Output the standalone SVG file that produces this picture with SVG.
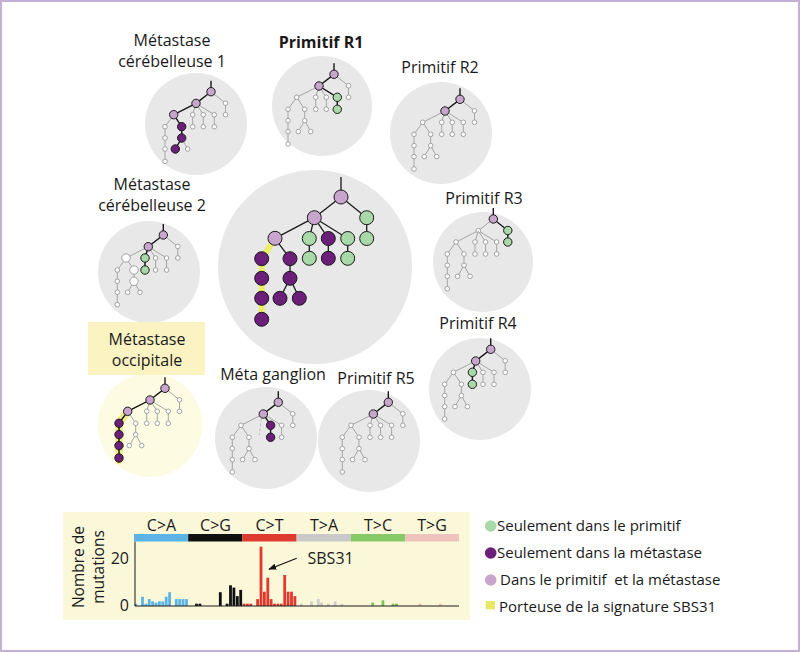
<svg xmlns="http://www.w3.org/2000/svg" xmlns:xlink="http://www.w3.org/1999/xlink" width="800" height="652" viewBox="0 0 800 652">
<style>
text{font-family:"Open Sans","Liberation Sans",sans-serif;fill:#1a1a1a}
.lbl{font-size:16px;text-anchor:middle}
.bg{fill:#e8e8e8}
.ge{fill:none;stroke:#a6a6a6;stroke-width:1}
.gn{fill:#fff;stroke:#9a9a9a;stroke-width:0.9}
.be{fill:none;stroke:#1a1a1a;stroke-width:1.4}
.li{fill:#c8a5cc;stroke:#1a1a1a;stroke-width:1}
.gr{fill:#a9d8a9;stroke:#1a1a1a;stroke-width:1}
.pu{fill:#6b1f78;stroke:#1a1a1a;stroke-width:1}
.wn{fill:#fff;stroke:#a0a0a0;stroke-width:1}
.ce{fill:none;stroke:#1a1a1a;stroke-width:1.3}
</style>
<defs>
<g id="tm">
<path class="ge" d="M0,0L-15,11.7 M0,0L14.5,11.5V23 M-15,11.7L-37.3,23 M-15,11.7L-7.7,23V35 M-15,11.7L3.3,23V35 M-37.3,23L-46,35V69.7 M-37.3,23L-29.3,35V46.3L-35.7,57.3 M-29.3,46.3L-23.3,57.3"/>
<g class="gn">
<circle cx="0" cy="0" r="2.3"/><circle cx="-15" cy="11.7" r="2.3"/><circle cx="14.5" cy="11.5" r="2.3"/><circle cx="14.5" cy="23" r="2.3"/>
<circle cx="-37.3" cy="23" r="2.3"/><circle cx="-7.7" cy="23" r="2.3"/><circle cx="-7.7" cy="35" r="2.3"/><circle cx="3.3" cy="23" r="2.3"/><circle cx="3.3" cy="35" r="2.3"/>
<circle cx="-46" cy="35" r="2.3"/><circle cx="-46" cy="46.3" r="2.3"/><circle cx="-46" cy="57.3" r="2.3"/><circle cx="-46" cy="69.7" r="2.3"/>
<circle cx="-29.3" cy="35" r="2.3"/><circle cx="-29.3" cy="46.3" r="2.3"/><circle cx="-35.7" cy="57.3" r="2.3"/><circle cx="-23.3" cy="57.3" r="2.3"/>
</g>
</g>
<g id="tc1">
<path class="ge" d="M-15,11.7L-18.3,23V35"/>
<g class="gn"><circle cx="-18.3" cy="23" r="2.3"/><circle cx="-18.3" cy="35" r="2.3"/></g>
</g>
<marker id="ah" viewBox="0 0 10 10" refX="9" refY="5" markerWidth="8" markerHeight="8" orient="auto" markerUnits="userSpaceOnUse"><path d="M0,1L10,5L0,9z" fill="#111"/></marker>
</defs>
<rect x="1" y="1" width="798" height="650" fill="#fff" stroke="#c4b0d4" stroke-width="2"/>

<!-- backgrounds -->
<g id="backgrounds">
<circle class="bg" cx="196" cy="124" r="51"/>
<circle class="bg" cx="322" cy="106" r="50"/>
<circle class="bg" cx="441" cy="133" r="51"/>
<circle class="bg" cx="149" cy="272" r="51"/>
<circle class="bg" cx="483" cy="262" r="50"/>
<circle class="bg" cx="480" cy="389" r="51"/>
<circle cx="150" cy="425" r="52" fill="#fdfbe2"/>
<circle class="bg" cx="266" cy="438" r="51"/>
<circle class="bg" cx="369" cy="441" r="51"/>
<circle class="bg" cx="315" cy="267" r="97"/>
</g>

<!-- labels -->
<g id="labels">
<text class="lbl" x="172" y="46">Métastase</text>
<text class="lbl" x="172" y="67">cérébelleuse 1</text>
<text class="lbl" x="321" y="48" font-weight="bold">Primitif R1</text>
<text class="lbl" x="440" y="73">Primitif R2</text>
<text class="lbl" x="152" y="190">Métastase</text>
<text class="lbl" x="152" y="211">cérébelleuse 2</text>
<text class="lbl" x="484" y="204">Primitif R3</text>
<text class="lbl" x="478" y="329">Primitif R4</text>
<rect x="88" y="322" width="117" height="53" fill="#fbf4c2"/>
<text class="lbl" x="147" y="345">Métastase</text>
<text class="lbl" x="147" y="366">occipitale</text>
<text class="lbl" x="273" y="380">Méta ganglion</text>
<text class="lbl" x="376" y="384">Primitif R5</text>
</g>

<!-- central tree -->
<g id="tree-central">
<path d="M275,238.3L261.7,258.7V322" fill="none" stroke="#ebee66" stroke-width="6" stroke-linecap="round"/>
<path class="ce" d="M341,177V197 M341,197L314.3,217.7 M341,197L366.7,217.7V238.5 M314.3,217.7L275,238.3 M314.3,217.7L309.3,238.5V258.3 M314.3,217.7L328.3,238.5V258.3 M314.3,217.7L347.7,238.5V258.3 M275,238.3L290,258.7V278.3L280,298.3 M290,278.3L299.3,298.3"/>
<circle class="li" cx="341" cy="197" r="7"/>
<circle class="li" cx="314.3" cy="217.7" r="7"/>
<circle class="gr" cx="366.7" cy="217.7" r="7"/>
<circle class="gr" cx="366.7" cy="238.5" r="7"/>
<circle class="li" cx="275" cy="238.3" r="7"/>
<circle class="gr" cx="309.3" cy="238.5" r="7"/>
<circle class="pu" cx="328.3" cy="238.5" r="7"/>
<circle class="gr" cx="347.7" cy="238.5" r="7"/>
<circle class="gr" cx="309.3" cy="258.3" r="7"/>
<circle class="pu" cx="328.3" cy="258.3" r="7"/>
<circle class="gr" cx="347.7" cy="258.3" r="7"/>
<circle class="pu" cx="261.7" cy="258.7" r="7"/>
<circle class="pu" cx="261.7" cy="278.3" r="7"/>
<circle class="pu" cx="261.7" cy="298.3" r="7"/>
<circle class="pu" cx="261.7" cy="319.3" r="7"/>
<circle class="pu" cx="290" cy="258.7" r="7"/>
<circle class="pu" cx="290" cy="278.3" r="7"/>
<circle class="pu" cx="280" cy="298.3" r="7"/>
<circle class="pu" cx="299.3" cy="298.3" r="7"/>
</g>

<g id="tree-cereb1" transform="translate(211,91.7)">
<use xlink:href="#tm" href="#tm"/><use xlink:href="#tc1" href="#tc1"/>
<path class="be" d="M0,-11V0L-15,11.7L-37.3,23L-29.3,35V46.3L-35.7,57.3"/>
<circle class="li" cx="0" cy="0" r="4.2"/><circle class="li" cx="-15" cy="11.7" r="4.2"/><circle class="li" cx="-37.3" cy="23" r="4.2"/>
<circle class="pu" cx="-29.3" cy="35" r="4.2"/><circle class="pu" cx="-29.3" cy="46.3" r="4.2"/><circle class="pu" cx="-35.7" cy="57.3" r="4.2"/>
</g>

<g id="tree-r1" transform="translate(334,74.3)">
<use xlink:href="#tm" href="#tm"/><use xlink:href="#tc1" href="#tc1"/>
<path class="be" d="M0,-11V0L-15,11.7L3.3,23V35"/>
<circle class="li" cx="0" cy="0" r="4.2"/><circle class="li" cx="-15" cy="11.7" r="4.2"/>
<circle class="gr" cx="3.3" cy="23" r="4.2"/><circle class="gr" cx="3.3" cy="35" r="4.2"/>
</g>

<g id="tree-r2" transform="translate(460,99.3)">
<use xlink:href="#tm" href="#tm"/><use xlink:href="#tc1" href="#tc1"/>
<path class="be" d="M0,-11V0L-15,11.7"/>
<circle class="li" cx="0" cy="0" r="4.2"/><circle class="li" cx="-15" cy="11.7" r="4.2"/>
</g>

<g id="tree-cereb2" transform="translate(163.3,235)">
<use xlink:href="#tm" href="#tm"/><use xlink:href="#tc1" href="#tc1"/>
<path class="be" d="M0,-11V0L-15,11.7L-18.3,23V35"/>
<circle class="li" cx="0" cy="0" r="4.2"/><circle class="li" cx="-15" cy="11.7" r="4.2"/>
<circle class="gr" cx="-18.3" cy="23" r="4.2"/><circle class="gr" cx="-18.3" cy="35" r="4.2"/>
<circle class="wn" cx="-37.3" cy="23" r="4.2"/><circle class="wn" cx="-29.3" cy="35" r="4.2"/><circle class="wn" cx="-29.3" cy="46.3" r="4.2"/>
</g>

<g id="tree-r3" transform="translate(493.3,219)">
<use xlink:href="#tm" href="#tm"/><use xlink:href="#tc1" href="#tc1"/>
<path class="be" d="M0,-11V0L14.5,11.5V23"/>
<circle class="li" cx="0" cy="0" r="4.2"/>
<circle class="gr" cx="14.5" cy="11.5" r="4.2"/><circle class="gr" cx="14.5" cy="23" r="4.2"/>
</g>

<g id="tree-r4" transform="translate(490.7,349.3)">
<use xlink:href="#tm" href="#tm"/><use xlink:href="#tc1" href="#tc1"/>
<path class="be" d="M0,-11V0L-15,11.7L-18.3,23V35"/>
<circle class="li" cx="0" cy="0" r="4.2"/><circle class="li" cx="-15" cy="11.7" r="4.2"/>
<circle class="gr" cx="-18.3" cy="23" r="4.2"/><circle class="gr" cx="-18.3" cy="35" r="4.2"/>
</g>

<g id="tree-occipitale" transform="translate(165,388.3)">
<path d="M-37.3,23L-46,35V72" fill="none" stroke="#f1ec8c" stroke-width="8" stroke-linecap="round"/>
<use xlink:href="#tm" href="#tm"/><use xlink:href="#tc1" href="#tc1"/>
<path class="be" d="M0,-11V0L-15,11.7L-37.3,23L-46,35V69.7"/>
<circle class="li" cx="0" cy="0" r="4.2"/><circle class="li" cx="-15" cy="11.7" r="4.2"/><circle class="li" cx="-37.3" cy="23" r="4.2"/>
<circle class="pu" cx="-46" cy="35" r="4.2"/><circle class="pu" cx="-46" cy="46.3" r="4.2"/><circle class="pu" cx="-46" cy="57.3" r="4.2"/><circle class="pu" cx="-46" cy="69.7" r="4.2"/>
</g>

<g id="tree-ganglion" transform="translate(278.3,402.3)">
<use xlink:href="#tm" href="#tm"/>
<path d="M-17,16L-19,33" fill="none" stroke="#bdbdbd" stroke-width="1" stroke-dasharray="3,2"/>
<path class="be" d="M0,-11V0L-15,11.7L-7.7,23V35"/>
<circle class="li" cx="0" cy="0" r="4.2"/><circle class="li" cx="-15" cy="11.7" r="4.2"/>
<circle class="pu" cx="-7.7" cy="23" r="4.2"/><circle class="pu" cx="-7.7" cy="35" r="4.2"/>
</g>

<g id="tree-r5" transform="translate(388.3,402.3)">
<use xlink:href="#tm" href="#tm"/><use xlink:href="#tc1" href="#tc1"/>
<path class="be" d="M0,-11V0L-15,11.7"/>
<circle class="li" cx="0" cy="0" r="4.2"/><circle class="li" cx="-15" cy="11.7" r="4.2"/>
</g>

<!-- chart -->
<g id="chart">
<rect x="63" y="512" width="407" height="108" fill="#fbf8d9"/>
<g font-size="16" text-anchor="middle">
<text x="161.5" y="531">C&gt;A</text>
<text x="215.5" y="531">C&gt;G</text>
<text x="269.5" y="531">C&gt;T</text>
<text x="324" y="531">T&gt;A</text>
<text x="378" y="531">T&gt;C</text>
<text x="432" y="531">T&gt;G</text>
</g>
<rect x="134" y="534" width="54.2" height="7.5" fill="#5bb4e5"/>
<rect x="188.2" y="534" width="54.2" height="7.5" fill="#111"/>
<rect x="242.4" y="534" width="54.2" height="7.5" fill="#e03b31"/>
<rect x="296.6" y="534" width="54.2" height="7.5" fill="#c9c9c9"/>
<rect x="350.8" y="534" width="54.2" height="7.5" fill="#87c967"/>
<rect x="405" y="534" width="54" height="7.5" fill="#efc3bd"/>
<g fill="#5bb4e5">
<rect x="134.3" y="603.7" width="2.8" height="2.3"/>
<rect x="141.1" y="596.8" width="2.8" height="9.2"/>
<rect x="144.5" y="603.7" width="2.8" height="2.3"/>
<rect x="147.8" y="599.1" width="2.8" height="6.9"/>
<rect x="151.2" y="601.4" width="2.8" height="4.6"/>
<rect x="154.6" y="602.6" width="2.8" height="3.4"/>
<rect x="158" y="601.4" width="2.8" height="4.6"/>
<rect x="161.4" y="601.4" width="2.8" height="4.6"/>
<rect x="164.8" y="596.8" width="2.8" height="9.2"/>
<rect x="168.2" y="592.2" width="2.8" height="13.8"/>
<rect x="174.9" y="599.1" width="2.8" height="6.9"/>
<rect x="178.3" y="599.1" width="2.8" height="6.9"/>
<rect x="181.7" y="599.1" width="2.8" height="6.9"/>
<rect x="185.1" y="599.1" width="2.8" height="6.9"/>
</g>
<g fill="#111">
<rect x="195.1" y="603.7" width="2.8" height="2.3"/>
<rect x="198.5" y="603.7" width="2.8" height="2.3"/>
<rect x="218.9" y="592.2" width="2.8" height="13.8"/>
<rect x="225.7" y="603.7" width="2.8" height="2.3"/>
<rect x="229.1" y="585.3" width="2.8" height="20.7"/>
<rect x="232.5" y="587.6" width="2.8" height="18.4"/>
<rect x="235.9" y="596.1" width="2.8" height="9.9"/>
<rect x="239.3" y="589.9" width="2.8" height="16.1"/>
</g>
<g fill="#e2392f">
<rect x="242.6" y="603.7" width="2.8" height="2.3"/>
<rect x="246" y="603.7" width="2.8" height="2.3"/>
<rect x="249.4" y="603.7" width="2.8" height="2.3"/>
<rect x="256.2" y="599.1" width="2.8" height="6.9"/>
<rect x="259.6" y="546.7" width="2.8" height="59.3"/>
<rect x="263" y="591.7" width="2.8" height="14.3"/>
<rect x="266.4" y="577.7" width="2.8" height="28.3"/>
<rect x="269.7" y="599.1" width="2.8" height="6.9"/>
<rect x="273.1" y="603.7" width="2.8" height="2.3"/>
<rect x="276.5" y="603.7" width="2.8" height="2.3"/>
<rect x="279.9" y="603.7" width="2.8" height="2.3"/>
<rect x="283.3" y="575" width="2.8" height="31"/>
<rect x="286.7" y="591.7" width="2.8" height="14.3"/>
<rect x="290.1" y="591.7" width="2.8" height="14.3"/>
<rect x="293.5" y="596.1" width="2.8" height="9.9"/>
</g>
<g fill="#cdcdcd">
<rect x="299.9" y="603.7" width="2.8" height="2.3"/>
<rect x="310.1" y="601.4" width="2.8" height="4.6"/>
<rect x="316.9" y="599.1" width="2.8" height="6.9"/>
<rect x="320.2" y="602.6" width="2.8" height="3.4"/>
<rect x="327" y="603.7" width="2.8" height="2.3"/>
<rect x="333.7" y="601.4" width="2.8" height="4.6"/>
<rect x="340.5" y="603.7" width="2.8" height="2.3"/>
</g>
<g fill="#7cc35b">
<rect x="371.3" y="602.6" width="2.8" height="3.4"/>
<rect x="381.5" y="600.3" width="2.8" height="5.7"/>
<rect x="391.6" y="603.7" width="2.8" height="2.3"/>
<rect x="395" y="603.7" width="2.8" height="2.3"/>
</g>
<g fill="#eec0b8">
<rect x="418.6" y="603.7" width="2.8" height="2.3"/>
<rect x="438.9" y="603.7" width="2.8" height="2.3"/>
</g>
<path d="M135,541.7V606H459" fill="none" stroke="#1a1a1a" stroke-width="1"/>
<g font-size="16" text-anchor="end">
<text x="129" y="564">20</text>
<text x="129" y="611">0</text>
</g>
<g font-size="15.5" text-anchor="middle">
<text transform="translate(84,567) rotate(-90)">Nombre de</text>
<text transform="translate(104,567) rotate(-90)">mutations</text>
</g>
<text x="307.5" y="564" font-size="16">SBS31</text>
<line x1="296.7" y1="558.3" x2="269" y2="569.3" stroke="#111" stroke-width="1.2" marker-end="url(#ah)"/>
</g>

<!-- legend -->
<g id="legend" font-size="15">
<circle cx="490.7" cy="526" r="5.8" fill="#a9d8a9"/>
<text x="497" y="531">Seulement dans le primitif</text>
<circle cx="490.7" cy="553" r="5.8" fill="#6b1f78"/>
<text x="497" y="558">Seulement dans la métastase</text>
<circle cx="490.7" cy="580" r="5.8" fill="#c8a5cc"/>
<text x="500" y="585" xml:space="preserve">Dans le primitif  et la métastase</text>
<rect x="485.7" y="601" width="9.3" height="8.3" fill="#e8e868"/>
<text x="499" y="612">Porteuse de la signature SBS31</text>
</g>
</svg>
